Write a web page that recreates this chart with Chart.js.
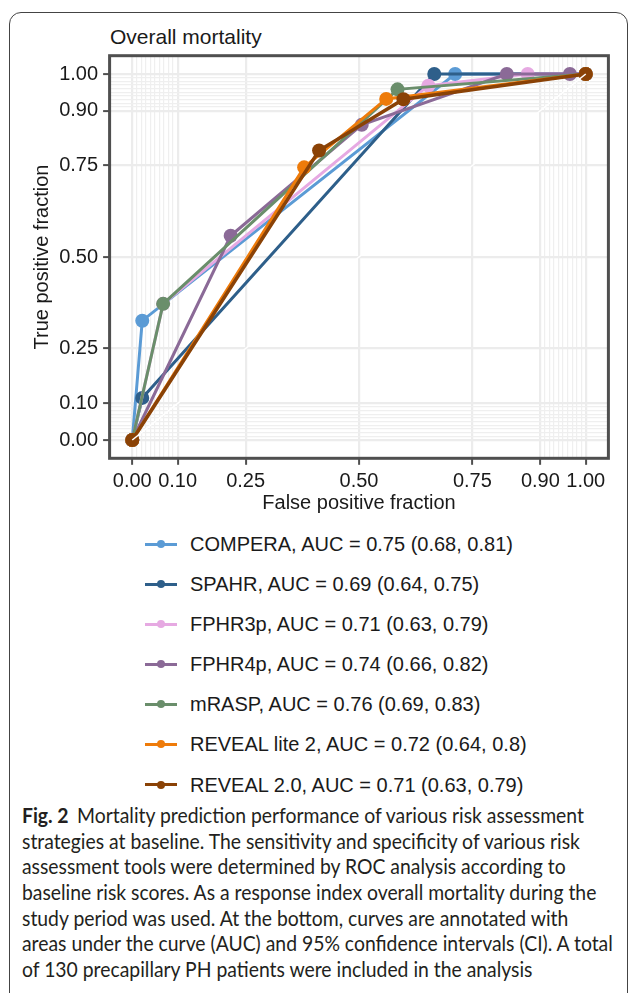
<!DOCTYPE html>
<html>
<head>
<meta charset="utf-8">
<script src="https://cdn.jsdelivr.net/npm/chart.js@4.4.1/dist/chart.umd.min.js"></script>
<style>
  body { margin: 0; background: #fff; width: 630px; height: 993px; overflow: hidden; position: relative;
         font-family: "Liberation Sans", Arial, sans-serif; color: #1a1a1a; }
  #frame { position: absolute; left: 9px; top: 12px; width: 619px; height: 1100px; box-sizing: border-box;
           border: 1px solid #444; border-radius: 12px; }
  #plot-title { position: absolute; left: 110px; top: 24px; font-size: 21px; line-height: 26px; }
  #chart-box { position: absolute; left: 0; top: 0; width: 630px; height: 520px; }
  #legend { position: absolute; left: 145px; top: 524px; }
  .leg-row { position: relative; height: 40.1px; }
  .leg-line { position: absolute; left: 0; top: 18.5px; width: 32px; height: 3px; }
  .leg-dot { position: absolute; left: 12px; top: 16px; width: 8px; height: 8px; border-radius: 50%; }
  .leg-text { position: absolute; left: 45px; top: 8px; font-size: 20px; line-height: 24px; white-space: nowrap; }
  #caption { position: absolute; left: 22px; top: 803px; font-family: Lato, "Open Sans", sans-serif;
             font-size: 20.5px; color: #231f20; }
  .cap-line { height: 25.7px; line-height: 25.7px; white-space: nowrap; transform-origin: left center; width: max-content; }
  .cap-line b { margin-right: 9px; }
</style>
</head>
<body>
<div id="frame"></div>
<div id="plot-title">Overall mortality</div>
<div id="chart-box"><canvas id="roc"></canvas></div>
<div id="legend"></div>
<div id="caption"></div>

<script>
// Scores and their AUC annotations
const scoreNames = ["COMPERA", "SPAHR", "FPHR3p", "FPHR4p", "mRASP", "REVEAL lite 2", "REVEAL 2.0"];
const scoreColors = ["#5b9bd5", "#2e5f8a", "#e6a9e2", "#8b6a97", "#6a8e6b", "#ee7b0a", "#8a4206"];
const aucValue = ["0.75", "0.69", "0.71", "0.74", "0.76", "0.72", "0.71"];
const aucLower = ["0.68", "0.64", "0.63", "0.66", "0.69", "0.64", "0.63"];
const aucUpper = ["0.81", "0.75", "0.79", "0.82", "0.83", "0.8", "0.79"];

// ROC points (false / true positive fraction)
const comperaFpf = [0, 0.022, 0.712, 1];
const comperaTpf = [0, 0.326, 1.0, 1];
const spahrFpf = [0, 0.022, 0.666, 1];
const spahrTpf = [0, 0.115, 1.0, 1];
const fphr3pFpf = [0, 0.068, 0.653, 0.872, 1];
const fphr3pTpf = [0, 0.372, 0.968, 1.0, 1];
const fphr4pFpf = [0, 0.217, 0.506, 0.826, 0.965, 1];
const fphr4pTpf = [0, 0.558, 0.861, 1.0, 1.0, 1];
const mraspFpf = [0, 0.068, 0.585, 1];
const mraspTpf = [0, 0.372, 0.958, 1];
const liteFpf = [0, 0.379, 0.560, 1];
const liteTpf = [0, 0.745, 0.932, 1];
const reveal2Fpf = [0, 0.412, 0.598, 1];
const reveal2Tpf = [0, 0.791, 0.931, 1];

const majorBreaks = [0, 0.1, 0.25, 0.5, 0.75, 0.9, 1];

const allFpf = [comperaFpf, spahrFpf, fphr3pFpf, fphr4pFpf, mraspFpf, liteFpf, reveal2Fpf];
const allTpf = [comperaTpf, spahrTpf, fphr3pTpf, fphr4pTpf, mraspTpf, liteTpf, reveal2Tpf];

// minor grid every 0.01 near both ends
let gridBreaks = majorBreaks.slice();
for (let i = 1; i < 10; i++) {
    gridBreaks.push(i / 100);
    gridBreaks.push((90 + i) / 100);
}
gridBreaks.sort((a, b) => a - b);

function isMajor(v) {
    return majorBreaks.some(m => Math.abs(m - v) < 1e-9);
}

const axisFont = { family: "'Liberation Sans', Arial, sans-serif", size: 20 };

function makeAxis(titleText, isY) {
    return {
        type: "linear",
        min: -0.05,
        max: 1.05,
        afterBuildTicks: scale => { scale.ticks = gridBreaks.map(v => ({ value: v })); },
        afterFit: scale => {
            if (isY) scale.width = 109.6;
            else scale.height = 61.7;
        },
        ticks: {
            autoSkip: false,
            maxRotation: 0,
            padding: 5,
            color: "#1a1a1a",
            font: axisFont,
            callback: v => isMajor(v) ? v.toFixed(2) : ""
        },
        grid: {
            color: ctx => isMajor(ctx.tick.value) ? "#ececec" : "#efefef",
            lineWidth: ctx => isMajor(ctx.tick.value) ? 2.2 : 1.2,
            tickColor: ctx => isMajor(ctx.tick.value) ? "#4f4f4f" : "rgba(0,0,0,0)",
            tickLength: 6.5,
            tickWidth: 2
        },
        border: { display: false },
        title: {
            display: true,
            text: titleText,
            color: "#1a1a1a",
            font: axisFont,
            padding: isY ? { top: 30.5 } : { bottom: 5 }
        }
    };
}

const panelBorder = {
    id: "panelBorder",
    afterDatasetsDraw(chart) {
        const { ctx, chartArea: a } = chart;
        ctx.save();
        ctx.strokeStyle = "#4f4f4f";
        ctx.lineWidth = 3;
        ctx.strokeRect(a.left, a.top, a.right - a.left, a.bottom - a.top);
        ctx.restore();
    }
};

const datasets = scoreNames.map((name, i) => ({
    label: name,
    data: allFpf[i].map((x, k) => ({ x: x, y: allTpf[i][k] })),
    borderColor: scoreColors[i],
    backgroundColor: scoreColors[i],
    pointBackgroundColor: scoreColors[i],
    pointBorderWidth: 0,
    pointRadius: 7,
    borderWidth: i === 6 ? 3.5 : 3,
    order: scoreNames.length - i
}));

// white reference diagonal, on top
datasets.push({
    label: "diagonal",
    data: [{ x: 0, y: 0 }, { x: 1, y: 1 }],
    borderColor: "#ffffff",
    borderWidth: 1.6,
    pointRadius: 0,
    order: -1
});

new Chart("roc", {
    type: "line",
    data: { datasets: datasets },
    options: {
        responsive: true,
        maintainAspectRatio: false,
        animation: false,
        layout: { padding: { top: 55.7, right: 21.6, left: 0, bottom: 0 } },
        plugins: { legend: { display: false }, tooltip: { enabled: false } },
        scales: {
            x: makeAxis("False positive fraction", false),
            y: makeAxis("True positive fraction", true)
        }
    },
    plugins: [panelBorder]
});

// legend below the plot
const legend = document.getElementById("legend");
scoreNames.forEach((name, i) => {
    const row = document.createElement("div");
    row.className = "leg-row";
    row.innerHTML =
        '<div class="leg-line" style="background:' + scoreColors[i] + '"></div>' +
        '<div class="leg-dot" style="background:' + scoreColors[i] + '"></div>' +
        '<div class="leg-text">' + name + ", AUC = " + aucValue[i] +
        " (" + aucLower[i] + ", " + aucUpper[i] + ")</div>";
    legend.appendChild(row);
});

// figure caption
const captionLines = [
    "<b>Fig. 2</b>Mortality prediction performance of various risk assessment",
    "strategies at baseline. The sensitivity and specificity of various risk",
    "assessment tools were determined by ROC analysis according to",
    "baseline risk scores. As a response index overall mortality during the",
    "study period was used. At the bottom, curves are annotated with",
    "areas under the curve (AUC) and 95% confidence intervals (CI). A total",
    "of 130 precapillary PH patients were included in the analysis"
];
const captionWidths = [559, 551, 549, 574, 538, 592, 523];
const caption = document.getElementById("caption");
const lineEls = captionLines.map(t => {
    const d = document.createElement("div");
    d.className = "cap-line";
    d.innerHTML = t;
    caption.appendChild(d);
    return d;
});
let measured = 0, wanted = 0;
lineEls.forEach((d, i) => { measured += d.offsetWidth; wanted += captionWidths[i]; });
const squeeze = wanted / measured;
lineEls.forEach(d => { d.style.transform = "scaleX(" + squeeze.toFixed(4) + ")"; });
</script>
</body>
</html>
